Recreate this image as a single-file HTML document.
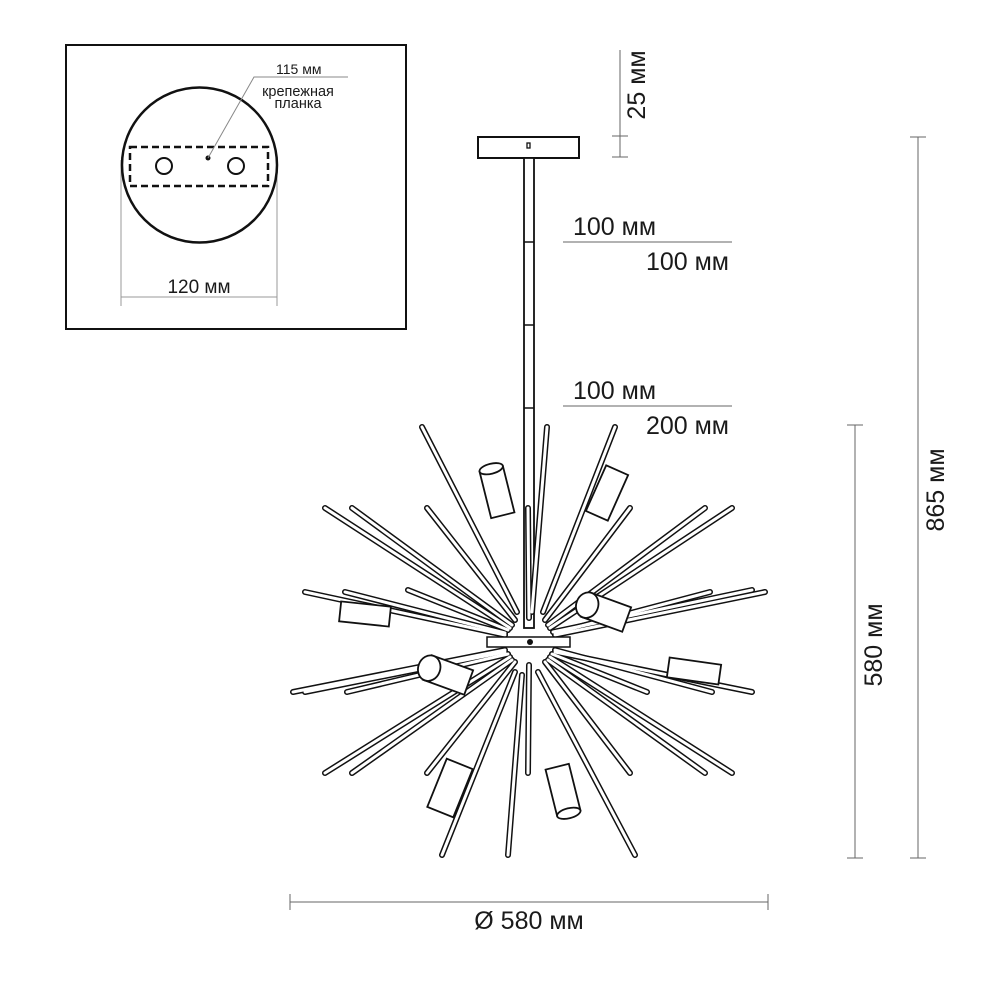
<!DOCTYPE html>
<html><head><meta charset="utf-8"><style>
html,body{margin:0;padding:0;background:#fff;}
svg{display:block}
text{font-family:"Liberation Sans",sans-serif;fill:#1a1a1a}
</style></head><body>
<svg width="1000" height="1000" viewBox="0 0 1000 1000" xmlns="http://www.w3.org/2000/svg">
<!-- inset -->
<rect x="66" y="45" width="340" height="284" fill="none" stroke="#111" stroke-width="2"/>
<line x1="121" y1="160" x2="121" y2="306" stroke="#999" stroke-width="1"/>
<line x1="277" y1="160" x2="277" y2="306" stroke="#999" stroke-width="1"/>
<line x1="121" y1="297" x2="277" y2="297" stroke="#999" stroke-width="1"/>
<text x="199" y="293" font-size="19" text-anchor="middle">120 мм</text>
<circle cx="199.5" cy="165" r="77.5" fill="none" stroke="#111" stroke-width="2.5"/>
<rect x="130" y="147" width="138" height="39" fill="none" stroke="#111" stroke-width="2.5" stroke-dasharray="7,4"/>
<circle cx="164" cy="166" r="8" fill="none" stroke="#111" stroke-width="2"/>
<circle cx="236" cy="166" r="8" fill="none" stroke="#111" stroke-width="2"/>
<circle cx="208" cy="158" r="2.5" fill="#111"/>
<polyline points="208,158 254,77 348,77" fill="none" stroke="#888" stroke-width="1"/>
<text x="276" y="74" font-size="14">115 мм</text>
<text x="298" y="96" font-size="14.5" text-anchor="middle">крепежная</text>
<text x="298" y="108" font-size="14.5" text-anchor="middle">планка</text>

<!-- canopy & stem -->
<rect x="478" y="137" width="101" height="21" fill="#fff" stroke="#111" stroke-width="2"/>
<rect x="527" y="143" width="3" height="5" fill="none" stroke="#111" stroke-width="1.3"/>
<rect x="524" y="158" width="10" height="470" fill="#fff" stroke="#111" stroke-width="1.8"/>
<line x1="524" y1="242" x2="534" y2="242" stroke="#111" stroke-width="1.5"/>
<line x1="524" y1="325" x2="534" y2="325" stroke="#111" stroke-width="1.5"/>
<line x1="524" y1="408" x2="534" y2="408" stroke="#111" stroke-width="1.5"/>

<!-- 25 mm -->
<line x1="620" y1="50" x2="620" y2="157" stroke="#666" stroke-width="1"/>
<line x1="612" y1="136" x2="628" y2="136" stroke="#666" stroke-width="1"/>
<line x1="612" y1="157" x2="628" y2="157" stroke="#666" stroke-width="1"/>
<text transform="translate(645,85) rotate(-90)" font-size="25" text-anchor="middle">25 мм</text>

<!-- labels -->
<line x1="563" y1="242" x2="732" y2="242" stroke="#666" stroke-width="1"/>
<text x="573" y="235" font-size="25">100 мм</text>
<text x="729" y="270" font-size="25" text-anchor="end">100 мм</text>
<line x1="563" y1="406" x2="732" y2="406" stroke="#666" stroke-width="1"/>
<text x="573" y="399" font-size="25">100 мм</text>
<text x="729" y="434" font-size="25" text-anchor="end">200 мм</text>

<!-- dims -->
<line x1="918" y1="137" x2="918" y2="858" stroke="#666" stroke-width="1"/>
<line x1="910" y1="137" x2="926" y2="137" stroke="#666" stroke-width="1"/>
<line x1="910" y1="858" x2="926" y2="858" stroke="#666" stroke-width="1"/>
<text transform="translate(944,490) rotate(-90)" font-size="25" text-anchor="middle">865 мм</text>
<line x1="855" y1="425" x2="855" y2="858" stroke="#666" stroke-width="1"/>
<line x1="847" y1="425" x2="863" y2="425" stroke="#666" stroke-width="1"/>
<line x1="847" y1="858" x2="863" y2="858" stroke="#666" stroke-width="1"/>
<text transform="translate(882,645) rotate(-90)" font-size="25" text-anchor="middle">580 мм</text>
<line x1="290" y1="902" x2="768" y2="902" stroke="#666" stroke-width="1"/>
<line x1="290" y1="894" x2="290" y2="910" stroke="#666" stroke-width="1"/>
<line x1="768" y1="894" x2="768" y2="910" stroke="#666" stroke-width="1"/>
<text x="529" y="929" font-size="25" text-anchor="middle">Ø 580 мм</text>

<!-- rods -->
<g stroke-linecap="round">
<g stroke="#111" stroke-width="6">
<line x1="517" y1="612" x2="422" y2="427"/><line x1="532" y1="612" x2="547" y2="427"/><line x1="543" y1="612" x2="615" y2="427"/>
<line x1="510" y1="628" x2="325" y2="508"/><line x1="512" y1="625" x2="352" y2="508"/><line x1="515" y1="620" x2="427" y2="508"/>
<line x1="529" y1="618" x2="528" y2="508"/><line x1="545" y1="620" x2="630" y2="508"/><line x1="548" y1="625" x2="705" y2="508"/><line x1="550" y1="628" x2="732" y2="508"/>
<line x1="505" y1="635" x2="305" y2="592"/><line x1="505" y1="633" x2="345" y2="592"/><line x1="508" y1="630" x2="408" y2="590"/>
<line x1="555" y1="633" x2="710" y2="592"/><line x1="555" y1="635" x2="765" y2="592"/><line x1="553" y1="632" x2="752" y2="590"/>
<line x1="505" y1="650" x2="293" y2="692"/><line x1="505" y1="652" x2="305" y2="692"/><line x1="508" y1="654" x2="347" y2="692"/>
<line x1="552" y1="654" x2="647" y2="692"/><line x1="555" y1="650" x2="712" y2="692"/><line x1="555" y1="652" x2="752" y2="692"/>
<line x1="510" y1="657" x2="325" y2="773"/><line x1="512" y1="660" x2="352" y2="773"/><line x1="515" y1="662" x2="427" y2="773"/>
<line x1="529" y1="665" x2="528" y2="773"/><line x1="545" y1="662" x2="630" y2="773"/><line x1="548" y1="660" x2="705" y2="773"/><line x1="550" y1="657" x2="732" y2="773"/>
<line x1="515" y1="672" x2="442" y2="855"/><line x1="522" y1="675" x2="508" y2="855"/><line x1="538" y1="672" x2="635" y2="855"/>
</g>
<g stroke="#fff" stroke-width="3">
<line x1="517" y1="612" x2="422" y2="427"/><line x1="532" y1="612" x2="547" y2="427"/><line x1="543" y1="612" x2="615" y2="427"/>
<line x1="510" y1="628" x2="325" y2="508"/><line x1="512" y1="625" x2="352" y2="508"/><line x1="515" y1="620" x2="427" y2="508"/>
<line x1="529" y1="618" x2="528" y2="508"/><line x1="545" y1="620" x2="630" y2="508"/><line x1="548" y1="625" x2="705" y2="508"/><line x1="550" y1="628" x2="732" y2="508"/>
<line x1="505" y1="635" x2="305" y2="592"/><line x1="505" y1="633" x2="345" y2="592"/><line x1="508" y1="630" x2="408" y2="590"/>
<line x1="555" y1="633" x2="710" y2="592"/><line x1="555" y1="635" x2="765" y2="592"/><line x1="553" y1="632" x2="752" y2="590"/>
<line x1="505" y1="650" x2="293" y2="692"/><line x1="505" y1="652" x2="305" y2="692"/><line x1="508" y1="654" x2="347" y2="692"/>
<line x1="552" y1="654" x2="647" y2="692"/><line x1="555" y1="650" x2="712" y2="692"/><line x1="555" y1="652" x2="752" y2="692"/>
<line x1="510" y1="657" x2="325" y2="773"/><line x1="512" y1="660" x2="352" y2="773"/><line x1="515" y1="662" x2="427" y2="773"/>
<line x1="529" y1="665" x2="528" y2="773"/><line x1="545" y1="662" x2="630" y2="773"/><line x1="548" y1="660" x2="705" y2="773"/><line x1="550" y1="657" x2="732" y2="773"/>
<line x1="515" y1="672" x2="442" y2="855"/><line x1="522" y1="675" x2="508" y2="855"/><line x1="538" y1="672" x2="635" y2="855"/>
</g>
</g>
<!-- hub -->
<rect x="487" y="637" width="83" height="10" fill="#fff" stroke="#111" stroke-width="1.5"/>
<circle cx="530" cy="642" r="3" fill="#111"/>

<!-- lamps -->
<g fill="#fff" stroke="#111" stroke-width="1.8">
<g transform="translate(497,492) rotate(-14)"><rect x="-12" y="-24" width="24" height="48"/><ellipse cx="0" cy="-24" rx="12" ry="5"/></g>
<g transform="translate(607,493) rotate(24)"><rect x="-12" y="-25" width="24" height="50"/></g>
<g transform="translate(606,612) rotate(-70)"><rect x="-13" y="-22" width="26" height="44"/><ellipse cx="0" cy="-20" rx="13" ry="11"/></g>
<g transform="translate(365,614) rotate(6)"><rect x="-25" y="-10" width="50" height="20"/></g>
<g transform="translate(694,671) rotate(8)"><rect x="-26" y="-10" width="52" height="20"/></g>
<g transform="translate(448,675) rotate(-70)"><rect x="-13" y="-22" width="26" height="44"/><ellipse cx="0" cy="-20" rx="13" ry="11"/></g>
<g transform="translate(450,788) rotate(22)"><rect x="-14" y="-26" width="28" height="52"/></g>
<g transform="translate(563,790) rotate(-14)"><rect x="-12" y="-24" width="24" height="48"/><ellipse cx="0" cy="24" rx="12" ry="5"/></g>
</g>
</svg>
</body></html>
